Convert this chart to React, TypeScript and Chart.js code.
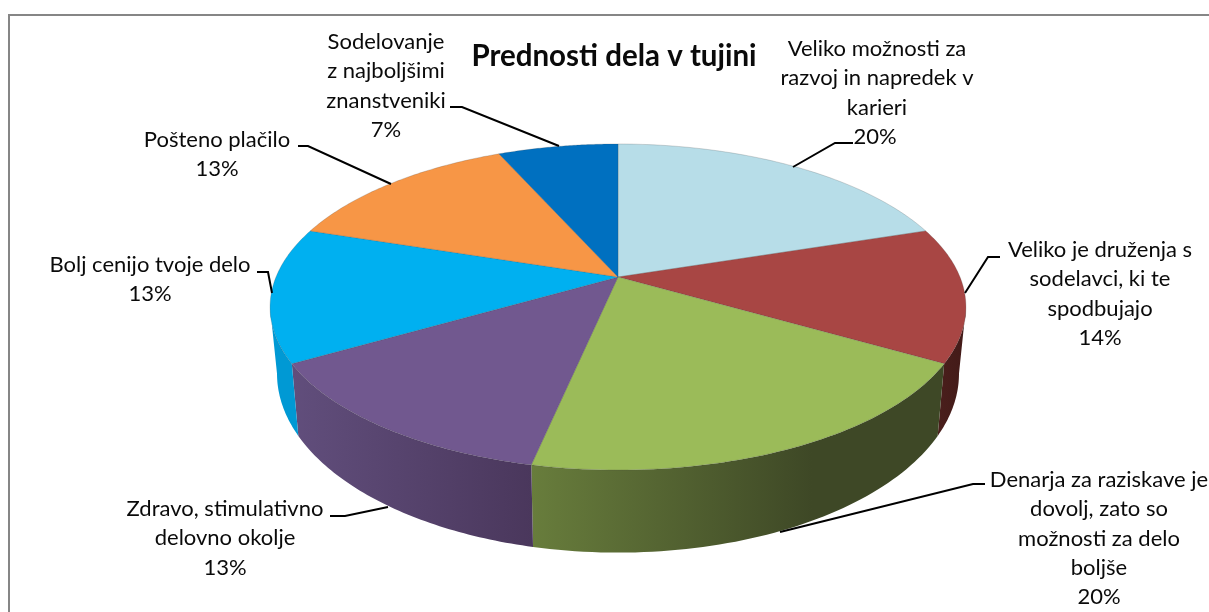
import React, { useEffect, useRef } from "react";
import { Chart, registerables } from "chart.js";

Chart.register(...registerables);

const CHART_TITLE = "Prednosti dela v tujini";
// Share of answers per category (slice sizes as they appear in the picture)
const categories = [
  "Veliko možnosti za razvoj in napredek v karieri",
  "Veliko je druženja s sodelavci, ki te spodbujajo",
  "Denarja za raziskave je dovolj, zato so možnosti za delo boljše",
  "Zdravo, stimulativno delovno okolje",
  "Bolj cenijo tvoje delo",
  "Pošteno plačilo",
  "Sodelovanje z najboljšimi znanstveniki",
];
const sliceValues = [3, 2, 3, 2, 2, 2, 1];
const percentLabels = ["20%", "14%", "20%", "13%", "13%", "13%", "7%"];
const topColors = ["#B7DDE8", "#A84644", "#9BBB59", "#71588F", "#00B0F0", "#F79646", "#0070C0"];
const wallLeft = ["#7f9aa2", "#4a1f1c", "#687D3C", "#614E7C", "#0099D4", "#a86430", "#004e86"];
const wallRight = ["#7f9aa2", "#421a18", "#3E4826", "#4a375c", "#0099D4", "#a86430", "#004e86"];

// Layout of the data labels: wrapped text, centre x, first line y, leader polyline
const labelLayout = [
  { lines: ["Veliko možnosti za", "razvoj in napredek v", "karieri"], x: 877, y: 49, leader: [[853, 143], [835, 143], [793, 167]], pctX: 875 },
  { lines: ["Veliko je druženja s", "sodelavci, ki te", "spodbujajo"], x: 1100, y: 250, leader: [[1000, 257], [988, 257], [965, 293]] },
  { lines: ["Denarja za raziskave je", "dovolj, zato so", "možnosti za delo", "boljše"], x: 1099, y: 480, leader: [[985, 484], [973, 484], [780, 532]] },
  { lines: ["Zdravo, stimulativno", "delovno okolje"], x: 225, y: 509, leader: [[330, 516], [345, 516], [388, 507]] },
  { lines: ["Bolj cenijo tvoje delo"], x: 150, y: 265, leader: [[257, 272], [268, 272], [272, 293]] },
  { lines: ["Pošteno plačilo"], x: 217, y: 140, leader: [[298, 146], [308, 146], [391, 184]] },
  { lines: ["Sodelovanje", "z najboljšimi", "znanstveniki"], x: 386, y: 42, leader: [[450, 107], [462, 107], [559, 146]] },
];

const LINE_H = 29.3;
const PERSP = 0.184;
const TOP_TILT = 0.4605;
const BOTTOM_TILT = 0.5056;
const BOTTOM_SCALE = 0.98;
const DEPTH = 63.7;
const FRONT_FROM = Math.asin(PERSP);
const FRONT_TO = Math.PI - FRONT_FROM;

type Pt = [number, number];

function topPoint(arc: any, a: number): Pt {
  const d = 1 - PERSP * Math.sin(a);
  return [arc.x + (arc.outerRadius * Math.cos(a)) / d, arc.y + (arc.outerRadius * TOP_TILT * Math.sin(a)) / d];
}
function bottomPoint(arc: any, a: number): Pt {
  const d = 1 - PERSP * Math.sin(a);
  return [
    arc.x + (arc.outerRadius * BOTTOM_SCALE * Math.cos(a)) / d,
    arc.y + DEPTH + (arc.outerRadius * BOTTOM_TILT * Math.sin(a)) / d,
  ];
}
function rim(arc: any, from: number, to: number, fn: (arc: any, a: number) => Pt): Pt[] {
  const n = 60;
  const pts: Pt[] = [];
  for (let i = 0; i <= n; i++) {
    pts.push(fn(arc, from + ((to - from) * i) / n));
  }
  return pts;
}
function path(ctx: CanvasRenderingContext2D, pts: Pt[]) {
  ctx.beginPath();
  pts.forEach((p, i) => (i ? ctx.lineTo(p[0], p[1]) : ctx.moveTo(p[0], p[1])));
  ctx.closePath();
}

const pie3d = {
  id: "pie3d",
  beforeDatasetDraw(chart: any) {
    const ctx: CanvasRenderingContext2D = chart.ctx;
    const arcs: any[] = chart.getDatasetMeta(0).data;
    ctx.save();
    arcs.forEach((arc, i) => {
      const from = Math.max(arc.startAngle, FRONT_FROM);
      const to = Math.min(arc.endAngle, FRONT_TO);
      if (to <= from) return;
      const t = rim(arc, from, to, topPoint);
      const b = rim(arc, from, to, bottomPoint);
      const xs = t.concat(b).map((p) => p[0]);
      const g = ctx.createLinearGradient(Math.min(...xs), 0, Math.max(...xs), 0);
      g.addColorStop(0, wallLeft[i]);
      g.addColorStop(i === 2 ? 0.68 : 1, wallRight[i]);
      g.addColorStop(1, wallRight[i]);
      path(ctx, t.concat(b.slice().reverse()));
      ctx.fillStyle = g;
      ctx.fill();
    });
    arcs.forEach((arc, i) => {
      const t = rim(arc, arc.startAngle, arc.endAngle, topPoint);
      path(ctx, [[arc.x, arc.y] as Pt].concat(t));
      ctx.fillStyle = topColors[i];
      ctx.fill();
      ctx.strokeStyle = "rgba(60,60,60,0.25)";
      ctx.lineWidth = 0.8;
      ctx.stroke();
    });
    ctx.restore();
    return false;
  },
  afterDraw(chart: any) {
    const ctx: CanvasRenderingContext2D = chart.ctx;
    ctx.save();
    // frame
    ctx.strokeStyle = "#868686";
    ctx.lineWidth = 2;
    ctx.beginPath();
    ctx.moveTo(9, 612);
    ctx.lineTo(9, 15);
    ctx.lineTo(1209, 15);
    ctx.stroke();
    // title
    ctx.fillStyle = "#0a0a0a";
    ctx.textAlign = "center";
    ctx.textBaseline = "middle";
    ctx.font = "bold 29.5px Lato";
    ctx.fillText(CHART_TITLE, 614, 56);
    // labels
    ctx.font = "22px Lato";
    labelLayout.forEach((l, i) => {
      l.lines.forEach((s, k) => ctx.fillText(s, l.x, l.y + k * LINE_H));
      ctx.fillText(percentLabels[i], l.pctX ?? l.x, l.y + l.lines.length * LINE_H);
      ctx.strokeStyle = "#000";
      ctx.lineWidth = 2;
      ctx.beginPath();
      l.leader.forEach((p, k) => (k ? ctx.lineTo(p[0], p[1]) : ctx.moveTo(p[0], p[1])));
      ctx.stroke();
    });
    ctx.restore();
  },
};

export default function App() {
  const ref = useRef<HTMLCanvasElement>(null);
  useEffect(() => {
    const chart = new Chart(ref.current!, {
      type: "pie",
      data: {
        labels: categories,
        datasets: [{ data: sliceValues, backgroundColor: topColors, borderWidth: 0 }],
      },
      options: {
        responsive: false,
        animation: false,
        radius: 342,
        layout: { padding: { left: 27, bottom: 58 } },
        plugins: { legend: { display: false }, tooltip: { enabled: false }, title: { display: false } },
      },
      plugins: [pie3d],
    } as any);
    return () => chart.destroy();
  }, []);
  return (
    <div style={{ position: "absolute", left: 0, top: 0, background: "#fff" }}>
      <canvas ref={ref} width={1209} height={612} style={{ display: "block" }} />
    </div>
  );
}
